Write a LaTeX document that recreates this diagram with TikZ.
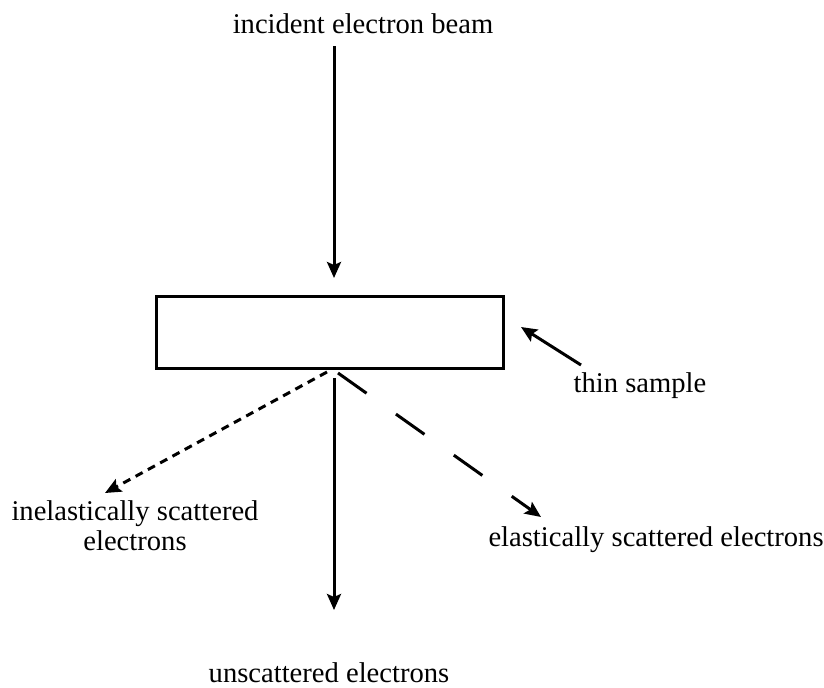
\documentclass[tikz,border=0pt]{standalone}
\usepackage{fontspec}
\setmainfont{Liberation Serif}
\usetikzlibrary{arrows.meta}
\begin{document}
\begin{tikzpicture}[x=.5pt,y=-.5pt,>={Stealth[length=8pt,width=7pt,inset=1.5pt]}, font=\fontsize{14.3}{15}\selectfont, line width=1.5pt]
	\useasboundingbox (0,0) rectangle (824,687);
	% sample
	\node[draw,minimum width=173.5pt,minimum height=36pt,inner sep=0pt] (sample) at (329.5,332) {};
	% labels
	\node[anchor=base] (incident) at (363,33) {incident electron beam};
	\node[anchor=base] (unscat) at (329,682) {unscattered electrons};
	\node[anchor=base] (thin) at (640,392) {thin sample};
	\node[anchor=base west,inner sep=0pt] (elastic) at (487,546) {elastically scattered electrons};
	\node[anchor=north,align=center,inner sep=0pt] (inelastic) at (135,499) {inelastically scattered\\electrons};
	\coordinate (beamtop) at (334,46);
	\coordinate (beamend) at (334,278);
	\coordinate (outtop) at (334,378);
	\coordinate (outend) at (334,610);
	\coordinate (thinfrom) at (581,365);
	\coordinate (thinto) at (521,327);
	\coordinate (inelfrom) at (327,372);
	\coordinate (inelto) at (105,493);
	\coordinate (elfrom) at (338,373);
	\coordinate (elto) at (541,517);
	% beams
	\draw[->] (beamtop)--(beamend);
	\draw[->] (outtop)--(outend);
	\draw[->] (thinfrom)--(thinto);
	\draw[->,dash pattern=on 4pt off 3pt] (inelfrom)--(inelto);
	\draw[->,dash pattern=on 17.5pt off 18pt] (elfrom)--(elto);
\end{tikzpicture}
\end{document}
